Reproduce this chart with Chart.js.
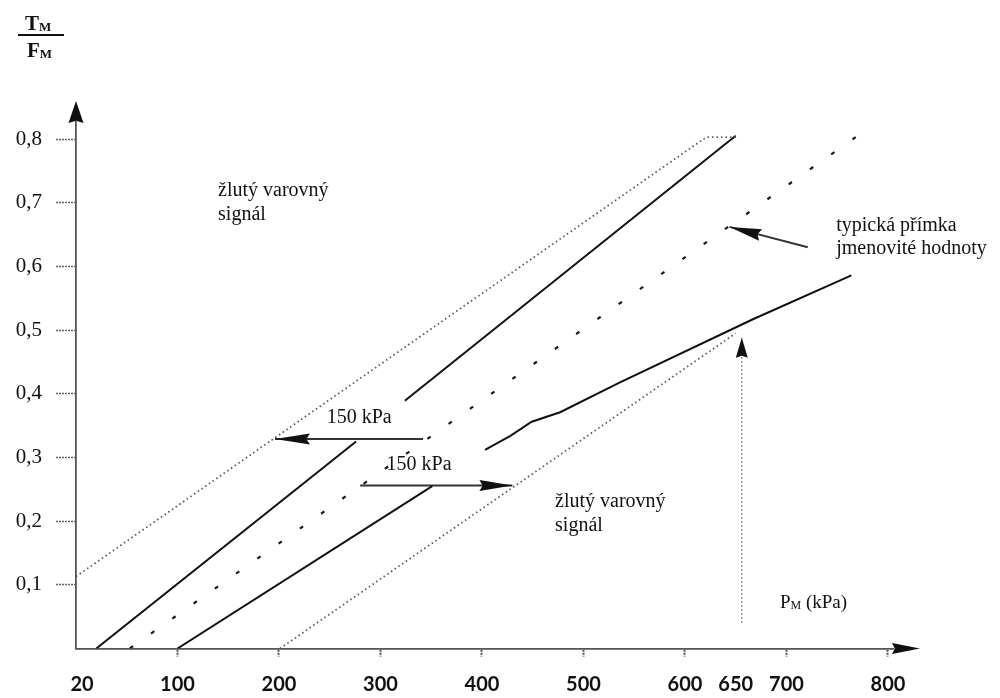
<!DOCTYPE html>
<html>
<head>
<meta charset="utf-8">
<script src="https://cdn.jsdelivr.net/npm/chart.js@4"></script>
<style>
  html, body { margin: 0; background: #fff; }
  #wrap { width: 1000px; height: 698px; }
</style>
</head>
<body>
<div id="wrap"><canvas id="chart" width="1000" height="698"></canvas></div>
<script>
// axis ticks
const xTickValues = [6, 100, 200, 300, 400, 500, 600, 650, 700, 800];
const xTickLabels = ["20", "100", "200", "300", "400", "500", "600", "650", "700", "800"];
const yTickValues = [0.1, 0.2, 0.3, 0.4, 0.5, 0.6, 0.7, 0.8];
const yTickLabels = ["0,1", "0,2", "0,3", "0,4", "0,5", "0,6", "0,7", "0,8"];

// lines (P_M kPa vs T_M/F_M), null = break in the line
const upperWarnX = [0, 621, 651];
const upperWarnY = [0.113, 0.803, 0.803];
const upperSolidX = [20, 276, 300, 324, 650];
const upperSolidY = [0, 0.325, null, 0.389, 0.805];
const nominalX = [53, 770];
const nominalY = [0, 0.805];
const lowerSolidX = [100, 351, 377, 403, 428, 449, 477, 536, 667, 764];
const lowerSolidY = [0, 0.255, null, 0.312, 0.334, 0.356, 0.371, 0.418, 0.517, 0.586];
const lowerWarnX = [201, 650];
const lowerWarnY = [0, 0.495];

// arrows: tail -> tip
const arrowLeftX = [342, 196];
const arrowLeftY = [0.329, 0.329];
const arrowRightX = [280, 430];
const arrowRightY = [0.256, 0.256];
const arrowNominalX = [721, 644];
const arrowNominalY = [0.630, 0.662];
const arrowUpX = [656, 656];
const arrowUpY = [0.04, 0.488];

const pts = (xs, ys) => xs.map((x, i) => ({ x: x, y: ys[i] }));

function drawHead(ctx, x0, y0, x1, y1, len, w) {
  const ang = Math.atan2(y1 - y0, x1 - x0);
  ctx.save();
  ctx.translate(x1, y1);
  ctx.rotate(ang);
  ctx.beginPath();
  ctx.moveTo(0, 0);
  ctx.lineTo(-len, -w / 2);
  ctx.lineTo(-len * 0.9, 0);
  ctx.lineTo(-len, w / 2);
  ctx.closePath();
  ctx.fillStyle = "#111";
  ctx.fill();
  ctx.restore();
}

const serif = '"Liberation Serif", "DejaVu Serif", serif';

const notes = [
  { x: 140, y: 0.7105, lines: ["žlutý varovný", "signál"], gap: 24 },
  { x: 472, y: 0.2222, lines: ["žlutý varovný", "signál"], gap: 24 },
  { x: 749, y: 0.6554, lines: ["typická přímka", "jmenovité hodnoty"], gap: 23 },
  { x: 247, y: 0.354, lines: ["150 kPa"], gap: 0 },
  { x: 306, y: 0.2803, lines: ["150 kPa"], gap: 0 }
];

const arrowPlugin = {
  id: "arrows",
  afterDatasetsDraw(chart) {
    const ctx = chart.ctx;
    chart.data.datasets.forEach((ds, i) => {
      if (!ds.head) return;
      const d = chart.getDatasetMeta(i).data;
      const a = d[d.length - 2], b = d[d.length - 1];
      drawHead(ctx, a.x, a.y, b.x, b.y, ds.head[0], ds.head[1]);
    });
    const ca = chart.chartArea;
    drawHead(ctx, ca.right - 5, ca.bottom, ca.right + 27, ca.bottom, 28, 11);
    drawHead(ctx, ca.left, ca.top + 5, ca.left, ca.top - 21, 22, 15);
  },
  afterDraw(chart) {
    const ctx = chart.ctx;
    const sx = chart.scales.x, sy = chart.scales.y;
    ctx.save();
    ctx.fillStyle = "#111";
    ctx.textAlign = "left";
    ctx.textBaseline = "alphabetic";
    ctx.font = "20px " + serif;
    notes.forEach(n => {
      const px = sx.getPixelForValue(n.x), py = sy.getPixelForValue(n.y);
      n.lines.forEach((t, k) => ctx.fillText(t, px, py + k * n.gap));
    });
    // P_M (kPa)
    let px = sx.getPixelForValue(693.6), py = sy.getPixelForValue(0.0636);
    ctx.font = "19px " + serif;
    ctx.fillText("P", px, py);
    px += ctx.measureText("P").width;
    ctx.font = "12px " + serif;
    ctx.fillText("M", px, py + 1);
    px += ctx.measureText("M").width;
    ctx.font = "19px " + serif;
    ctx.fillText(" (kPa)", px, py);
    // T_M / F_M
    ctx.font = "bold 21px " + serif;
    ctx.fillText("T", 25, 30);
    let w = ctx.measureText("T").width;
    ctx.font = "bold 13px " + serif;
    ctx.fillText("M", 25 + w, 31);
    ctx.font = "bold 21px " + serif;
    ctx.fillText("F", 27, 57);
    w = ctx.measureText("F").width;
    ctx.font = "bold 13px " + serif;
    ctx.fillText("M", 27 + w, 58);
    ctx.fillRect(18, 34, 46, 2);
    ctx.restore();
  }
};

const thin = { pointRadius: 0, fill: false, tension: 0, spanGaps: false };

new Chart(document.getElementById("chart"), {
  type: "line",
  data: {
    datasets: [
      { ...thin, data: pts(upperWarnX, upperWarnY), borderColor: "#5a5a5a", borderWidth: 1.8, borderDash: [1.5, 3] },
      { ...thin, data: pts(upperSolidX, upperSolidY), borderColor: "#111", borderWidth: 2 },
      { ...thin, data: pts(nominalX, nominalY), borderColor: "#1a1a1a", borderWidth: 2.2, borderDash: [4, 22] },
      { ...thin, data: pts(lowerSolidX, lowerSolidY), borderColor: "#111", borderWidth: 2 },
      { ...thin, data: pts(lowerWarnX, lowerWarnY), borderColor: "#5a5a5a", borderWidth: 1.8, borderDash: [1.5, 3] },
      { ...thin, data: pts(arrowLeftX, arrowLeftY), borderColor: "#333", borderWidth: 2, head: [35, 11] },
      { ...thin, data: pts(arrowRightX, arrowRightY), borderColor: "#333", borderWidth: 2, head: [33, 11] },
      { ...thin, data: pts(arrowNominalX, arrowNominalY), borderColor: "#333", borderWidth: 2, head: [32, 12] },
      { ...thin, data: pts(arrowUpX, arrowUpY), borderColor: "#999", borderWidth: 1.5, borderDash: [2, 2], head: [20, 12] }
    ]
  },
  options: {
    responsive: false,
    animation: false,
    layout: { padding: { left: 0, right: 107, top: 122, bottom: 0 } },
    plugins: { legend: { display: false }, tooltip: { enabled: false } },
    scales: {
      x: {
        type: "linear",
        min: 0,
        max: 805,
        afterFit: s => { s.height = 49.5; },
        afterBuildTicks: s => { s.ticks = xTickValues.map(v => ({ value: v })); },
        ticks: {
          autoSkip: false,
          maxRotation: 0,
          callback: (v, i) => xTickLabels[i],
          font: { family: "Lato", weight: "bold", size: 20 },
          color: "#111",
          padding: 16
        },
        grid: {
          drawOnChartArea: false,
          drawTicks: true,
          tickLength: 8,
          tickWidth: 2,
          tickBorderDash: [2, 1],
          tickColor: c => (c.tick && (c.tick.value === 6 || c.tick.value === 650)) ? "rgba(0,0,0,0)" : "#555"
        },
        border: { display: true, color: "#555", width: 1.8, dash: [2, 1] }
      },
      y: {
        type: "linear",
        min: 0,
        max: 0.8267,
        afterFit: s => { s.width = 76; },
        afterBuildTicks: s => { s.ticks = yTickValues.map(v => ({ value: v })); },
        ticks: {
          autoSkip: false,
          callback: (v, i) => yTickLabels[i],
          font: { family: "Liberation Serif", size: 21 },
          color: "#111",
          padding: 14
        },
        grid: {
          drawOnChartArea: false,
          drawTicks: true,
          tickLength: 20,
          tickWidth: 1.5,
          tickBorderDash: [2, 1],
          tickColor: "#666"
        },
        border: { display: true, color: "#555", width: 1.8, dash: [2, 1] }
      }
    }
  },
  plugins: [arrowPlugin]
});
</script>
</body>
</html>
